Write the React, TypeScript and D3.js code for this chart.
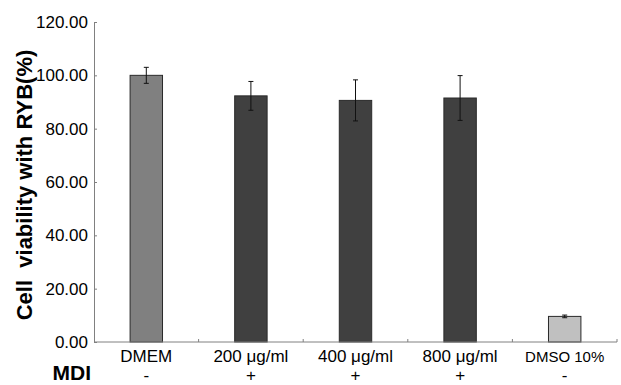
import { useRef, useEffect } from 'react';
import * as d3 from 'd3';

const categories = ['DMEM', '200 μg/ml', '400 μg/ml', '800 μg/ml', 'DMSO 10%'];
const mdiFlags = ['-', '+', '+', '+', '-'];
const means = [100.0, 92.3, 90.6, 91.5, 9.6];
const errors = [3.0, 5.4, 7.7, 8.4, 0.5];
const barColors = ['#808080', '#404040', '#404040', '#404040', '#c0c0c0'];
const yTicks = [0, 20, 40, 60, 80, 100, 120];

const W = 621;
const H = 385;

export default function App() {
  const svgRef = useRef<SVGSVGElement>(null);

  useEffect(() => {
    if (!svgRef.current) return;
    const svg = d3.select(svgRef.current);
    svg.selectAll('*').remove();

    const left = 94;
    const right = 617;
    const top = 22;
    const bottom = 342;

    const x = d3.scaleBand<string>()
      .domain(categories)
      .range([left, right])
      .paddingInner(0.69)
      .paddingOuter(0.345);
    const y = d3.scaleLinear().domain([0, 120]).range([bottom, top]);

    const font = 'Arial, "Liberation Sans", sans-serif';

    // bars
    svg.append('g')
      .selectAll('rect')
      .data(categories)
      .join('rect')
      .attr('x', (d) => x(d)!)
      .attr('y', (_, i) => y(means[i]))
      .attr('width', x.bandwidth())
      .attr('height', (_, i) => bottom - y(means[i]))
      .attr('fill', (_, i) => barColors[i])
      .attr('stroke', '#2a2a2a')
      .attr('stroke-width', 1);

    // error bars
    const eb = svg.append('g').attr('stroke', '#111').attr('stroke-width', 1);
    categories.forEach((c, i) => {
      const cx = x(c)! + x.bandwidth() / 2;
      const y1 = y(means[i] + errors[i]);
      const y2 = y(means[i] - errors[i]);
      eb.append('line').attr('x1', cx).attr('x2', cx).attr('y1', y1).attr('y2', y2);
      eb.append('line').attr('x1', cx - 2.5).attr('x2', cx + 2.5).attr('y1', y1).attr('y2', y1);
      eb.append('line').attr('x1', cx - 2.5).attr('x2', cx + 2.5).attr('y1', y2).attr('y2', y2);
    });

    // y axis
    const yAxis = svg.append('g')
      .attr('transform', `translate(${left},0)`)
      .call(d3.axisLeft(y).tickValues(yTicks).tickFormat(d3.format('.2f')).tickSizeInner(-3).tickSizeOuter(0).tickPadding(6));
    yAxis.select('.domain').attr('stroke', '#808080');
    yAxis.selectAll('line').attr('stroke', '#808080');
    yAxis.selectAll('text')
      .attr('font-family', font)
      .attr('font-size', 17)
      .attr('fill', '#000');

    // x axis
    const step = x.step();
    const boundaries = d3.range(categories.length + 1).map((i) => left + i * step);
    svg.append('line')
      .attr('x1', left).attr('x2', right)
      .attr('y1', bottom).attr('y2', bottom)
      .attr('stroke', '#808080');
    svg.append('g')
      .selectAll('line')
      .data(boundaries.slice(1))
      .join('line')
      .attr('x1', (d) => d).attr('x2', (d) => d)
      .attr('y1', bottom).attr('y2', bottom - 3)
      .attr('stroke', '#808080');

    // category labels
    svg.append('g')
      .selectAll('text')
      .data(categories)
      .join('text')
      .attr('x', (d) => x(d)! + x.bandwidth() / 2)
      .attr('y', 362)
      .attr('text-anchor', 'middle')
      .attr('font-family', font)
      .attr('font-size', (_, i) => (i === categories.length - 1 ? 15 : 17))
      .text((d) => d);

    // MDI row
    svg.append('g')
      .selectAll('text')
      .data(mdiFlags)
      .join('text')
      .attr('x', (_, i) => x(categories[i])! + x.bandwidth() / 2)
      .attr('y', 381)
      .attr('text-anchor', 'middle')
      .attr('font-family', font)
      .attr('font-size', 17)
      .text((d) => d);

    svg.append('text')
      .attr('x', 91)
      .attr('y', 380)
      .attr('text-anchor', 'end')
      .attr('font-family', font)
      .attr('font-weight', 'bold')
      .attr('font-size', 21)
      .text('MDI');

    // y title
    svg.append('text')
      .attr('transform', `translate(32,${(top + bottom) / 2 + 3}) rotate(-90)`)
      .attr('text-anchor', 'middle')
      .attr('font-family', font)
      .attr('font-weight', 'bold')
      .attr('font-size', 22)
      .attr('xml:space', 'preserve')
      .style('white-space', 'pre')
      .text('Cell  viability with RYB(%)');
  }, []);

  return (
    <svg
      ref={svgRef}
      width={W}
      height={H}
      viewBox={`0 0 ${W} ${H}`}
      style={{ position: 'absolute', left: 0, top: 0, background: '#fff' }}
    />
  );
}
